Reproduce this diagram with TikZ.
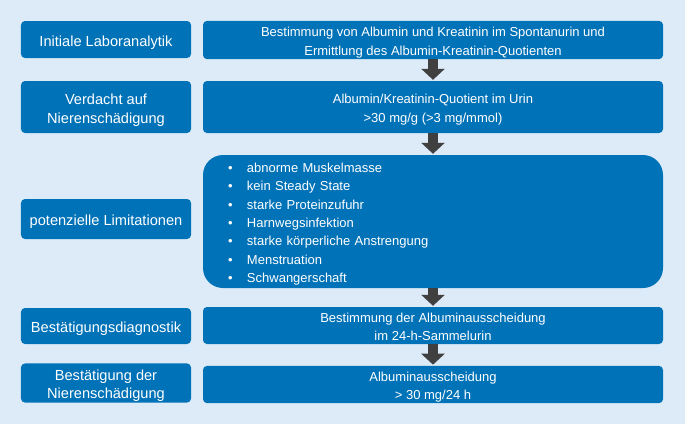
\documentclass[tikz,border=0pt]{standalone}
\usepackage{fontspec}
\setmainfont{Liberation Sans}
\usepackage{tikz}
\usetikzlibrary{arrows.meta, positioning}
\definecolor{bgblue}{RGB}{221,235,248}
\definecolor{boxblue}{RGB}{0,114,184}
\definecolor{arrowgray}{RGB}{64,64,64}
% struts for first and last line of a box text
\newcommand{\tstr}{\rule{0pt}{1.2em}}
\newcommand{\bstr}{\rule[-0.28em]{0pt}{0.28em}}

\begin{document}
\begin{tikzpicture}[x=1bp, y=-1bp,
  stagebox/.style={rectangle, rounded corners=4bp, fill=boxblue, text=white,
    align=center, inner sep=0pt, minimum width=170bp,
    font=\fontsize{14.6bp}{19bp}\selectfont},
  infobox/.style={rectangle, rounded corners=4bp, fill=boxblue, text=white,
    align=center, inner sep=0pt, minimum width=460bp,
    font=\fontsize{13bp}{19bp}\selectfont},
  flow/.style={arrowgray, line width=10bp,
    -{Triangle[width=23bp,length=11bp]}, shorten >=1bp}]
% background
\fill[bgblue] (0,0) rectangle (685,424);
\useasboundingbox (0,0) rectangle (685,424);

% stages (left column)
\node[stagebox, minimum height=37bp] (s1) at (106,39.5) {\tstr Initiale Laboranalytik\bstr};
\node[stagebox, minimum height=52bp] (s2) at (106,107) {\tstr Verdacht auf\\Nierenschädigung\bstr};
\node[stagebox, minimum height=40bp] (s3) at (106,219) {\tstr potenzielle Limitationen\bstr};
\node[stagebox, minimum height=36bp] (s4) at (106,326) {\tstr Bestätigungsdiagnostik\bstr};
\node[stagebox, minimum height=38bp, font=\fontsize{14.6bp}{17.5bp}\selectfont] (s5) at (106,383) {\tstr Bestätigung der\\Nierenschädigung\bstr};

% details (right column)
\node[infobox, minimum height=38bp] (r1) at (433,40) {\tstr Bestimmung von Albumin und Kreatinin im Spontanurin und\\Ermittlung des Albumin-Kreatinin-Quotienten\bstr};
\node[infobox, minimum height=52bp] (r2) at (433,107) {\tstr Albumin/Kreatinin-Quotient im Urin\\>30 mg/g (>3 mg/mmol)\bstr};
\node[infobox, minimum height=133bp, rounded corners=20bp, align=left,
  text width=410bp, inner xsep=25bp, font=\fontsize{13bp}{18.3bp}\selectfont] (r3) at (433,221.5) {%
  \tstr\makebox[19bp][l]{\textbullet}abnorme Muskelmasse\\
  \makebox[19bp][l]{\textbullet}kein Steady State\\
  \makebox[19bp][l]{\textbullet}starke Proteinzufuhr\\
  \makebox[19bp][l]{\textbullet}Harnwegsinfektion\\
  \makebox[19bp][l]{\textbullet}starke körperliche Anstrengung\\
  \makebox[19bp][l]{\textbullet}Menstruation\\
  \makebox[19bp][l]{\textbullet}Schwangerschaft\bstr};
\node[infobox, minimum height=37bp, font=\fontsize{13bp}{17.5bp}\selectfont] (r4) at (433,325.5) {\tstr Bestimmung der Albuminausscheidung\\im 24-h-Sammelurin\bstr};
\node[infobox, minimum height=37bp, font=\fontsize{13bp}{18bp}\selectfont] (r5) at (433,384.5) {\tstr Albuminausscheidung\\> 30 mg/24 h\bstr};

% arrows
\draw[flow] (r1.south) -- (r2.north);
\draw[flow] (r2.south) -- (r3.north);
\draw[flow] (r3.south) -- (r4.north);
\draw[flow] (r4.south) -- (r5.north);
\end{tikzpicture}
\end{document}
